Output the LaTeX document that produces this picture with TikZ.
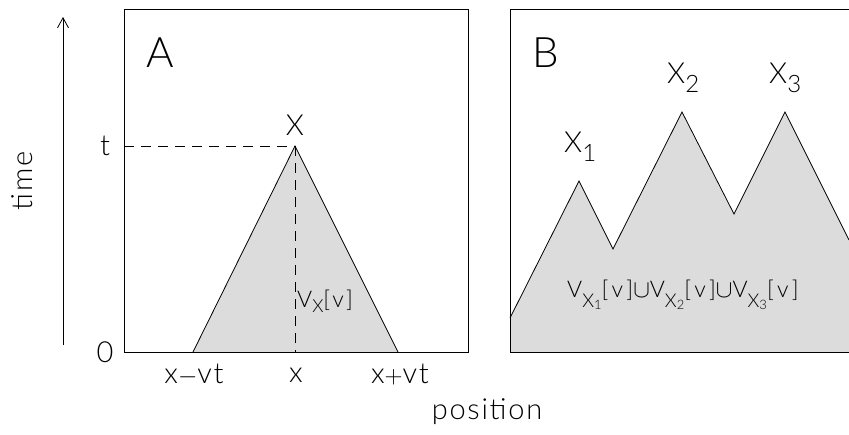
\documentclass[tikz,border=0pt]{standalone}
\usepackage{fontspec}
\setmainfont{Lato}[UprightFont=* Light, LetterSpace=6]
\usetikzlibrary{arrows.meta}
\definecolor{shadegray}{HTML}{DCDCDC}
\newcommand{\mysub}[3]{\raisebox{-#1}{\fontsize{#2}{#2}\selectfont #3}}
\begin{document}
\begin{tikzpicture}[x=1pt,y=-1pt,
  frame/.style={line width=0.9pt,black},
  edge/.style={line width=0.8pt,black},
  guide/.style={line width=0.8pt,dash pattern=on 10pt off 7pt},
  lab/.style={inner sep=0pt,font=\fontsize{29}{31}\selectfont},
  biglab/.style={inner sep=0pt,font=\fontsize{42}{44}\selectfont},
  smalllab/.style={inner sep=0pt,font=\fontsize{23}{25}\selectfont\addfontfeature{LetterSpace=12}},
  unionlab/.style={inner sep=0pt,font=\fontsize{23}{25}\selectfont\addfontfeature{LetterSpace=17}}]
\useasboundingbox (0,0) rectangle (849,434);
% ---------- Panel A ----------
\coordinate (aTL) at (124,9);
\coordinate (aBR) at (468,352);
\coordinate (aL) at (193,352);
\coordinate (aP) at (295,146);
\coordinate (aR) at (398,352);
\coordinate (aPb) at (295,352);
\coordinate (tY) at (124,146);
\fill[shadegray] (aL) -- (aP) -- (aR) -- cycle;
\draw[edge] (aL) -- (aP) -- (aR);
\draw[guide] (tY) -- (aP);
\draw[guide] (aP) -- (aPb);
\draw[frame] (aTL) rectangle (aBR);
\node[biglab] (A) at (160,53) {A};
\node[lab] (Xa) at (295,125) {X};
\node[lab] (tl) at (105,146) {t};
\node[lab] (zl) at (105,352) {0};
\node[lab] (xm) at (194,375) {x$-$vt};
\node[lab] (xc) at (296,375) {x};
\node[lab] (xp) at (400,375) {x$+$vt};
\node[smalllab,anchor=base west] (Vx) at (297,307) {V\mysub{5pt}{18pt}{X}[v]};
% time axis
\coordinate (ts) at (63,345);
\coordinate (te) at (63,17);
\draw[line width=0.8pt,-{Straight Barb[length=10pt,width=11pt]}] (ts) -- (te);
\node[lab,rotate=90] (time) at (22,181) {time};
\node[lab] (pos) at (487,412) {position};
% ---------- Panel B ----------
\coordinate (b0) at (510,318);
\coordinate (b1) at (579,181);
\coordinate (b2) at (613,249);
\coordinate (b3) at (682,112);
\coordinate (b4) at (734,214);
\coordinate (b5) at (785,112);
\coordinate (b6) at (849,240);
\fill[shadegray] (b0) -- (b1) -- (b2) -- (b3) -- (b4) -- (b5) -- (b6) -- (849,352) -- (510,352) -- cycle;
\draw[edge] (b0) -- (b1) -- (b2) -- (b3) -- (b4) -- (b5) -- (b6);
\draw[frame] (849,9) -- (510,9) -- (510,352) -- (849,352);
\node[biglab] (B) at (546,53) {B};
\node[lab,anchor=base west] (X1) at (564,152) {X\mysub{9pt}{24pt}{1}};
\node[lab,anchor=base west] (X2) at (667,83) {X\mysub{9pt}{24pt}{2}};
\node[lab,anchor=base west] (X3) at (769,83) {X\mysub{9pt}{24pt}{3}};
\node[unionlab,anchor=base west] (U) at (567,297) {V\mysub{10pt}{19pt}{X\mysub{2pt}{13pt}{1}}[v]$\cup$V\mysub{10pt}{19pt}{X\mysub{2pt}{13pt}{2}}[v]$\cup$V\mysub{10pt}{19pt}{X\mysub{2pt}{13pt}{3}}[v]};
\end{tikzpicture}
\end{document}
